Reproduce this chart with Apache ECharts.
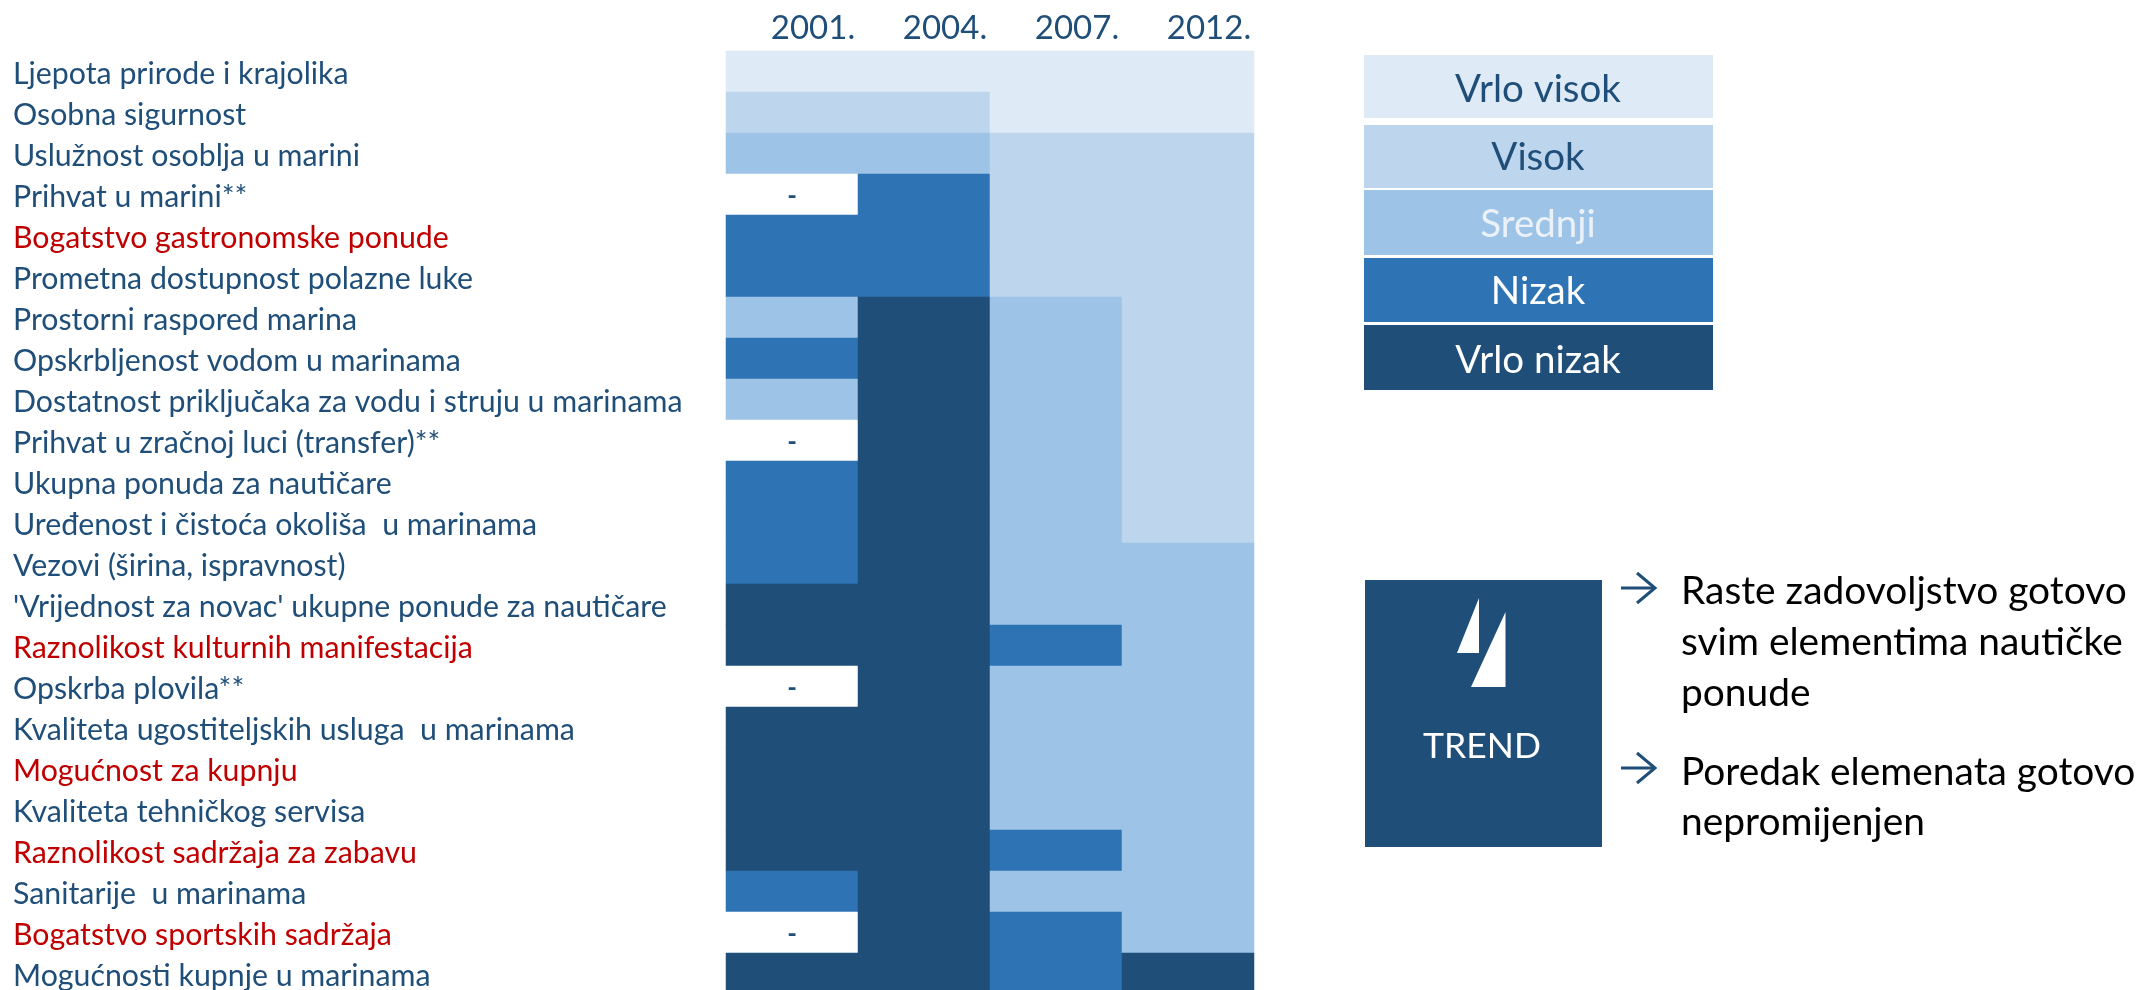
<!DOCTYPE html>
<html><head><meta charset="utf-8">
<style>html,body{margin:0;padding:0;background:#fff;overflow:hidden}#c{width:2148px;height:990px}</style>
<script src="https://cdn.jsdelivr.net/npm/echarts@6/dist/echarts.min.js"></script>
</head><body><div id="c"></div>
<script>
const years = ['2001.', '2004.', '2007.', '2012.'];
const items = ['Ljepota prirode i krajolika','Osobna sigurnost','Uslužnost osoblja u marini','Prihvat u marini**','Bogatstvo gastronomske ponude','Prometna dostupnost polazne luke','Prostorni raspored marina','Opskrbljenost vodom u marinama','Dostatnost priključaka za vodu i struju u marinama','Prihvat u zračnoj luci (transfer)**','Ukupna ponuda za nautičare','Uređenost i čistoća okoliša  u marinama','Vezovi (širina, ispravnost)',"'Vrijednost za novac' ukupne ponude za nautičare",'Raznolikost kulturnih manifestacija','Opskrba plovila**','Kvaliteta ugostiteljskih usluga  u marinama','Mogućnost za kupnju','Kvaliteta tehničkog servisa','Raznolikost sadržaja za zabavu','Sanitarije  u marinama','Bogatstvo sportskih sadržaja','Mogućnosti kupnje u marinama'];
const redItems = ['Bogatstvo gastronomske ponude','Raznolikost kulturnih manifestacija','Mogućnost za kupnju','Raznolikost sadržaja za zabavu','Bogatstvo sportskih sadržaja'];
// 5 = Vrlo visok ... 1 = Vrlo nizak, 0 = no data
const y2001 = [5,4,3,0,2,2,3,2,3,0,2,2,2,1,1,0,1,1,1,1,2,0,1];
const y2004 = [5,4,3,2,2,2,1,1,1,1,1,1,1,1,1,1,1,1,1,1,1,1,1];
const y2007 = [5,5,4,4,4,4,3,3,3,3,3,3,3,3,2,3,3,3,3,2,3,2,2];
const y2012 = [5,5,4,4,4,4,4,4,4,4,4,4,3,3,3,3,3,3,3,3,3,3,1];
const levelNames = ['Vrlo visok','Visok','Srednji','Nizak','Vrlo nizak'];
const levelColors = ['#DEEAF6','#BDD6EE','#9DC3E6','#2E74B5','#1F4E79'];
const levelTextColors = ['#1F4E79','#1F4E79','#EAF1F8','#FFFFFF','#FFFFFF'];
const trendLines = [['Raste zadovoljstvo gotovo','svim elementima nautičke','ponude'],['Poredak elemenata gotovo','nepromijenjen']];

const FONT = 'Lato';
const cols = [y2001,y2004,y2007,y2012];
const cells = [];
cols.forEach((c,x)=>c.forEach((v,y)=>cells.push([x,y,v])));

const legendBoxes = [[55,63],[125,63],[190,65],[258,64],[325,65]];
const legendTextY = [90,158,225,292,361];
const g = [];
legendBoxes.forEach((b,i)=>{
  g.push({type:'rect',shape:{x:1364,y:b[0],width:349,height:b[1]},style:{fill:levelColors[i]}});
  g.push({type:'text',style:{text:levelNames[i],x:1538,y:legendTextY[i],align:'center',verticalAlign:'middle',font:'38.5px '+FONT,fill:levelTextColors[i]}});
});
g.push({type:'rect',shape:{x:1365,y:580,width:237,height:267},style:{fill:'#1F4E79'}});
g.push({type:'polygon',shape:{points:[[1479,598],[1457,653],[1479,653]]},style:{fill:'#fff'}});
g.push({type:'polygon',shape:{points:[[1505.5,612],[1471,687],[1505.5,687]]},style:{fill:'#fff'}});
g.push({type:'text',style:{text:'TREND',x:1482,y:747,align:'center',verticalAlign:'middle',font:'35.5px '+FONT,fill:'#fff'}});
[588,768].forEach(y=>{
  g.push({type:'polyline',shape:{points:[[1621,y],[1654,y]]},style:{stroke:'#1F4E79',lineWidth:3,fill:null}});
  g.push({type:'polyline',shape:{points:[[1637,y-15],[1655,y],[1637,y+15]]},style:{stroke:'#1F4E79',lineWidth:3,fill:null}});
});
const lineYs = [[591,642,693],[772,822]];
trendLines.forEach((ls,i)=>ls.forEach((t,j)=>{
  g.push({type:'text',style:{text:t,x:1681,y:lineYs[i][j],align:'left',verticalAlign:'middle',font:'38.9px '+FONT,fill:'#000'}});
}));

const chart = echarts.init(document.getElementById('c'),null,{renderer:'canvas'});
chart.setOption({
  animation:false,
  backgroundColor:'#fff',
  grid:{left:726,top:51,width:528,height:943,outerBoundsMode:'none',containLabel:false},
  xAxis:{type:'category',position:'top',data:years,axisLine:{show:false},axisTick:{show:false},splitLine:{show:false},splitArea:{show:false},
    axisLabel:{color:'#1F4E79',fontFamily:FONT,fontSize:33,margin:6,padding:[0,0,0,42],interval:0}},
  yAxis:{type:'category',inverse:true,data:items,axisLine:{show:false},axisTick:{show:false},splitLine:{show:false},splitArea:{show:false},
    axisLabel:{align:'left',margin:713,interval:0,fontFamily:FONT,fontSize:30.3,lineHeight:36,verticalAlign:'top',padding:[-15,0,0,0],
      color:v=>redItems.includes(v)?'#C00000':'#1F4E79'}},
  visualMap:{show:false,type:'piecewise',dimension:2,seriesIndex:0,
    pieces:[{value:0,color:'#FFFFFF'},{value:1,color:levelColors[4]},{value:2,color:levelColors[3]},{value:3,color:levelColors[2]},{value:4,color:levelColors[1]},{value:5,color:levelColors[0]}]},
  series:[{type:'heatmap',data:cells,emphasis:{disabled:true},
    label:{show:true,color:'#1F4E79',fontFamily:FONT,fontSize:26,fontWeight:'bold',offset:[0,2],formatter:p=>p.value[2]===0?'-':''}}],
  graphic:g
});
</script></body></html>
